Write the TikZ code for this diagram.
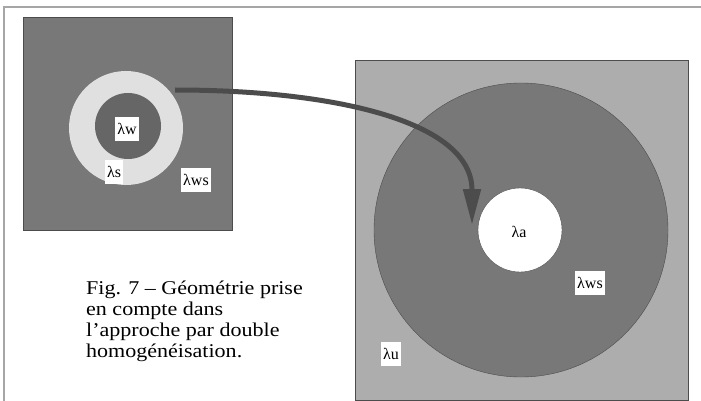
\documentclass[tikz,border=0pt]{standalone}
\usepackage{fontspec}
\setmainfont{Liberation Serif}
\newfontfamily\captionfont[FakeStretch=1.13,Ligatures=TeX]{Liberation Serif}
\usetikzlibrary{arrows.meta}

\definecolor{darkgrey}{gray}{0.47}
\definecolor{coregrey}{gray}{0.40}
\definecolor{ringgrey}{gray}{0.88}
\definecolor{lightgrey}{gray}{0.68}
\definecolor{arrowgrey}{gray}{0.30}

\tikzset{
  lab/.style={fill=white, inner xsep=2.5pt, minimum height=24pt, font=\fontsize{16}{16}\selectfont},
  bigarrow/.style={arrowgrey, line width=5pt, -{Triangle[length=36pt,width=17pt]}},
}

\begin{document}
\begin{tikzpicture}[x=1pt,y=-1pt]
\useasboundingbox (0,0) rectangle (701,401);

% Frame
\draw[gray!70, line width=1.5pt] (4,401) -- (4,7) -- (701,7);

% Left cell - fibre with coating
\draw[fill=darkgrey, draw=gray!60!black] (23,17) rectangle (232,230);
\fill[ringgrey] (126,128) circle (57);
\fill[coregrey] (128,126) circle (33);
\node[lab] (lw) at (127,129) {λw};
\node[lab] (ls) at (114,172) {λs};
\node[lab] (lws) at (196,180) {λws};

% Right cell - homogenised
\draw[fill=lightgrey, draw=gray!60!black] (355,60) rectangle (688,400);
\draw[fill=darkgrey, draw=gray!60!black] (521,230) circle (147);
\draw[fill=white, draw=gray!60!black] (520,230) circle (42);
\node[font=\fontsize{16}{16}\selectfont] (la) at (519,232) {λa};
\node[lab] (lws2) at (590,283) {λws};
\node[lab] (lu) at (391,354) {λu};

% Arrow
\coordinate (start) at (175,90);
\coordinate (tip) at (472,225);
\draw[bigarrow] (start) .. controls (330,90) and (472,120) .. (tip);

% Caption
\node[anchor=north west, align=left, inner sep=0pt,
      font=\captionfont\fontsize{19.5}{21}\selectfont] (caption) at (86,281)
  {Fig. 7 – Géométrie prise\\en compte dans\\l’approche par double\\homogénéisation.};

\end{tikzpicture}
\end{document}
